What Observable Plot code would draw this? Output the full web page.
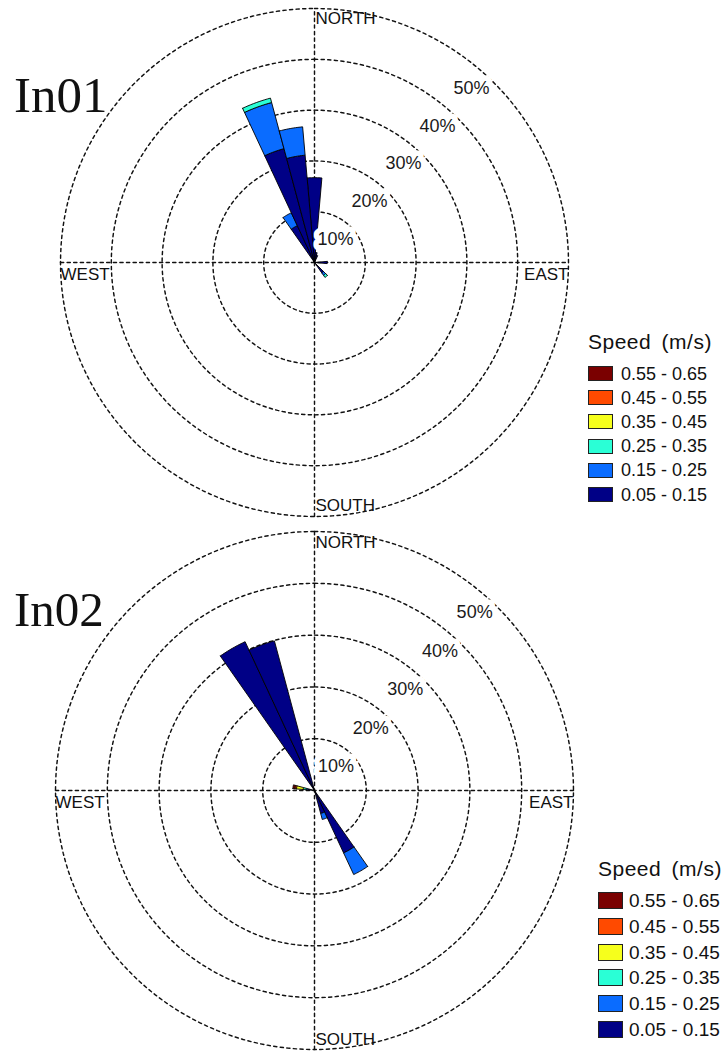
<!DOCTYPE html>
<html><head><meta charset="utf-8">
<script src="https://cdn.jsdelivr.net/npm/d3@7"></script>
<script src="https://cdn.jsdelivr.net/npm/@observablehq/plot@0.6"></script>
<style>
body{margin:0;background:#fff;font-family:"Liberation Sans",Arial,sans-serif;}
.panel{position:relative;width:726px;overflow:hidden;background:#fff}
.panel svg{display:block}
.title{position:absolute;font-family:"Liberation Serif","Times New Roman",serif;line-height:1;color:#111;white-space:nowrap}
.legend{position:absolute;color:#111}
.legend .lt{position:absolute;left:0;top:0;line-height:1;white-space:nowrap;letter-spacing:0.5px;word-spacing:4px}
.legend .row{position:absolute;left:0;display:flex;align-items:center;white-space:nowrap}
.legend .sw{box-sizing:border-box;border:1.5px solid #222}
.legend .lab{line-height:1}
</style></head><body>
<div id="root"></div>
<script>
// ---- shared categories / styles ----
const speedBins = ["0.05 - 0.15","0.15 - 0.25","0.25 - 0.35","0.35 - 0.45","0.45 - 0.55","0.55 - 0.65"];
const speedColors = ["#000086","#0a6cff","#2affd6","#f6ff1c","#ff4a00","#7a0000"];
const legendTitle = "Speed (m/s)";
const ringTicks = [10, 20, 30, 40, 50];
const ringLabels = ["10%", "20%", "30%", "40%", "50%"];
const compassLabels = ["NORTH", "EAST", "SOUTH", "WEST"];
const compassBearings = [0, 90, 180, 270];
const panelTitles = ["In01", "In02"];

// ---- In01: frequency (%) per direction sector, per speed bin ----
const in01Dirs     = [0,    10,  20,  90,  140, 330, 340,  350];
const in01_005_015 = [16.7, 2.0, 1.5, 2.5, 2.5, 8.0, 23.2, 21.2];
const in01_015_025 = [0,    0,   0,   0,   0.6, 2.8, 9.4,  5.6];
const in01_025_035 = [0,    0,   0,   0,   0.5, 0,   0.9,  0];
const in01_035_045 = [0,    0,   0,   0,   0,   0,   0,    0];
const in01_045_055 = [0,    0,   0,   0,   0,   0,   0,    0];
const in01_055_065 = [0,    0,   0,   0,   0,   0,   0,    0];

// ---- In02 ----
const in02Dirs     = [150,  160, 280, 330,  340];
const in02_005_015 = [13.3, 4.6, 1.2, 31.7, 29.9];
const in02_015_025 = [4.6,  1.2, 0.4, 0,    0];
const in02_025_035 = [0,    0,   0.6, 0,    0];
const in02_035_045 = [0,    0,   1.3, 0,    0];
const in02_045_055 = [0,    0,   0.3, 0,    0];
const in02_055_065 = [0,    0,   0.4, 0,    0];

const rad = a => a * Math.PI / 180;
const SECTOR_HALF = 5;

function sectorPolys(dirs, bins) {
  const out = [];
  dirs.forEach((d, i) => {
    let r0 = 0;
    bins.forEach((vals, b) => {
      const v = vals[i];
      if (!v) return;
      const r1 = r0 + v;
      const id = d + "-" + b;
      const pts = [];
      for (let a = d - SECTOR_HALF; a <= d + SECTOR_HALF + 1e-9; a += 1) pts.push([r1, a]);
      if (r0 > 0) { for (let a = d + SECTOR_HALF; a >= d - SECTOR_HALF - 1e-9; a -= 1) pts.push([r0, a]); }
      else pts.push([0, d]);
      pts.push(pts[0]);
      for (const [r, a] of pts) out.push({id, bin: speedBins[b], x: r * Math.sin(rad(a)), y: r * Math.cos(rad(a))});
      r0 = r1;
    });
  });
  return out;
}

function rose(cfg) {
  const {dirs, bins, height, cx, cy, k, nDy, sDy} = cfg;
  const W = 726;
  const R = d3.max(ringTicks);
  const ringPts = ringTicks.flatMap(v => d3.range(0, 361, 2).map(a => ({ring: v, x: v * Math.sin(rad(a)), y: v * Math.cos(rad(a))})));
  const axisPts = [
    {g: "h", x: -R, y: 0}, {g: "h", x: R, y: 0},
    {g: "v", x: 0, y: -R}, {g: "v", x: 0, y: R}
  ];
  const labA = 42;
  const labels = ringTicks.map((v, i) => ({text: ringLabels[i], x: (v - 3.8) * Math.sin(rad(labA)), y: (v - 3.8) * Math.cos(rad(labA))}));
  const compass = compassLabels.map((t, i) => ({t, x: R * Math.sin(rad(compassBearings[i])), y: R * Math.cos(rad(compassBearings[i]))}));
  const polys = sectorPolys(dirs, bins);
  const dash = {stroke: "#111", strokeWidth: 1.45, strokeDasharray: "3.2,3.4"};
  const cText = {text: "t", fontSize: 17, fill: "#111"};
  const svg = Plot.plot({
    width: W, height, margin: 0,
    style: {fontFamily: "'Liberation Sans', Arial, sans-serif", background: "white", overflow: "visible"},
    x: {domain: [-cx / k, (W - cx) / k], axis: null},
    y: {domain: [-(height - cy) / k, cy / k], axis: null},
    color: {domain: speedBins, range: speedColors},
    marks: [
      Plot.line(ringPts, {x: "x", y: "y", z: "ring", curve: "linear", ...dash}),
      Plot.line(axisPts, {x: "x", y: "y", z: "g", ...dash}),
      Plot.line(polys, {x: "x", y: "y", z: "id", fill: "bin", stroke: "#000", strokeWidth: 0.9, strokeLinejoin: "miter"}),
      Plot.text(labels, {x: "x", y: "y", text: "text", fontSize: 18, fill: "#1a1a1a", stroke: "white", strokeWidth: 11, textAnchor: "middle"}),
      Plot.text(compass.filter(d => d.t === compassLabels[0]), {x: "x", y: "y", ...cText, textAnchor: "start", lineAnchor: "top", dx: 1, dy: nDy, ariaLabel: "compass"}),
      Plot.text(compass.filter(d => d.t === compassLabels[1]), {x: "x", y: "y", ...cText, textAnchor: "end", lineAnchor: "top", dx: 0, dy: 5, ariaLabel: "compass"}),
      Plot.text(compass.filter(d => d.t === compassLabels[2]), {x: "x", y: "y", ...cText, textAnchor: "start", lineAnchor: "bottom", dx: 1, dy: sDy, ariaLabel: "compass"}),
      Plot.text(compass.filter(d => d.t === compassLabels[3]), {x: "x", y: "y", ...cText, textAnchor: "start", lineAnchor: "top", dx: 0, dy: 5, ariaLabel: "compass"})
    ]
  });
  d3.select(svg).selectAll('g[aria-label="compass"] text').attr("letter-spacing", "-0.5");
  return svg;
}

function panel(cfg) {
  const div = document.createElement("div");
  div.className = "panel";
  div.style.height = cfg.height + "px";
  div.appendChild(rose(cfg));
  const t = document.createElement("div");
  t.className = "title";
  t.textContent = cfg.title;
  t.style.left = cfg.titleX + "px";
  t.style.top = cfg.titleY + "px";
  t.style.fontSize = cfg.titleSize + "px";
  div.appendChild(t);
  const lg = document.createElement("div");
  lg.className = "legend";
  lg.style.left = cfg.legX + "px";
  lg.style.top = cfg.legY + "px";
  const lt = document.createElement("div");
  lt.className = "lt";
  lt.textContent = legendTitle;
  lt.style.fontSize = cfg.legTitleSize + "px";
  lg.appendChild(lt);
  // legend lists highest bin first
  const order = d3.range(speedBins.length).reverse();
  order.forEach((b, j) => {
    const row = document.createElement("div");
    row.className = "row";
    row.style.top = (cfg.legRow0 + j * cfg.legStep) + "px";
    row.style.height = cfg.swH + "px";
    const sw = document.createElement("div");
    sw.className = "sw";
    sw.style.width = cfg.swW + "px";
    sw.style.height = cfg.swH + "px";
    sw.style.background = speedColors[b];
    sw.style.marginRight = cfg.swGap + "px";
    const lab = document.createElement("span");
    lab.className = "lab";
    lab.style.fontSize = cfg.labSize + "px";
    lab.textContent = speedBins[b];
    row.appendChild(sw);
    row.appendChild(lab);
    lg.appendChild(row);
  });
  div.appendChild(lg);
  return div;
}

const root = document.getElementById("root");
root.appendChild(panel({
  dirs: in01Dirs,
  bins: [in01_005_015, in01_015_025, in01_025_035, in01_035_045, in01_045_055, in01_055_065],
  height: 526, cx: 314, cy: 262, k: 5.08, nDy: 3, sDy: -6,
  title: panelTitles[0], titleX: 14, titleY: 70, titleSize: 51,
  legX: 588, legY: 331, legTitleSize: 21, legRow0: 35, legStep: 24.2, swW: 25, swH: 15, swGap: 8, labSize: 18
}));
root.appendChild(panel({
  dirs: in02Dirs,
  bins: [in02_005_015, in02_015_025, in02_025_035, in02_035_045, in02_045_055, in02_055_065],
  height: 525, cx: 314, cy: 264, k: 5.18, nDy: 4, sDy: -5,
  title: panelTitles[1], titleX: 14, titleY: 59, titleSize: 49,
  legX: 598, legY: 332, legTitleSize: 21, legRow0: 34, legStep: 25.8, swW: 25, swH: 17, swGap: 6, labSize: 19
}));
</script>
</body></html>
